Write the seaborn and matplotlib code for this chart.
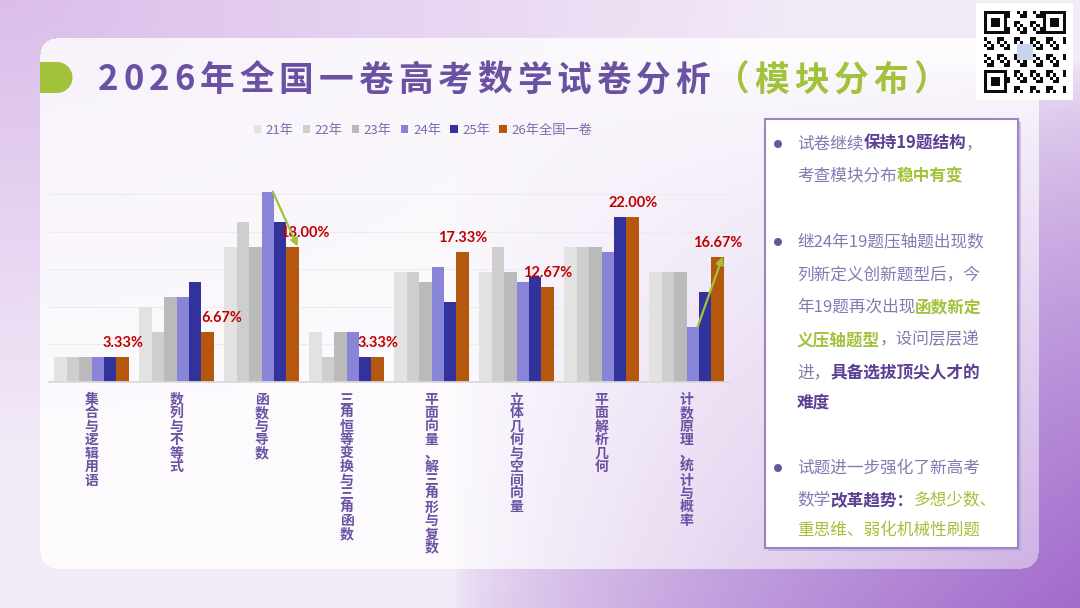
import numpy as np
import pandas as pd
import matplotlib
matplotlib.use("Agg")
import matplotlib.pyplot as plt
import seaborn as sns
from matplotlib.patches import Rectangle, Circle

# ------ DATA ------ #

categories = ["集合与逻辑用语", "数列与不等式", "函数与导数", "三角恒等变换与三角函数",
              "平面向量、解三角形与复数", "立体几何与空间向量", "平面解析几何",
              "计数原理、统计与概率"]
years = ["21年", "22年", "23年", "24年", "25年", "26年全国一卷"]

share_21 = [3.33, 10.00, 18.00, 6.67, 14.67, 14.67, 18.00, 14.67]
share_22 = [3.33, 6.67, 21.33, 3.33, 14.67, 18.00, 18.00, 14.67]
share_23 = [3.33, 11.33, 18.00, 6.67, 13.33, 14.67, 18.00, 14.67]
share_24 = [3.33, 11.33, 25.33, 6.67, 15.33, 13.33, 17.33, 7.33]
share_25 = [3.33, 13.33, 21.33, 3.33, 10.67, 14.00, 22.00, 12.00]
share_26 = [3.33, 6.67, 18.00, 3.33, 17.33, 12.67, 22.00, 16.67]

year_colors = ["#e2e2e2", "#cecece", "#bababa", "#8884d8", "#32329c", "#b5570c"]

title_main = "2026年全国一卷高考数学试卷分析"
title_sub = "（模块分布）"

# ------ STYLE ------ #

PURPLE = "#6a51a2"
DARK = "#5c3f93"
SOFT = "#8878b2"
GREEN = "#a2c23c"
RED = "#c00000"
CJK = ["Noto Sans CJK SC", "DejaVu Sans"]

sns.set_theme(style="white")
plt.rcParams['font.family'] = CJK

W, H = 1080, 608
fig = plt.figure(figsize=(W / 100, H / 100), dpi=100)

# ------ BACKGROUND ------ #

yy, xx = np.mgrid[0:H, 0:W]
u, v = xx / W, yy / H
light = np.array([0.95, 0.92, 0.97])
lav = np.array([0.84, 0.71, 0.91])
purple = np.array([0.63, 0.42, 0.80])
w_l = np.clip(1 - np.sqrt(u ** 2 + v ** 2) / 0.75, 0, 1)[..., None] * 0.85
w_p = (np.clip((u - 0.42) / 0.58, 0, 1) * np.clip((v - 0.1) / 0.9, 0, 1)) ** 0.6
w_p = w_p[..., None]
img = light * (1 - w_l) + lav * w_l
img = img * (1 - w_p) + purple * w_p

# translucent rounded panel
x0, x1, y0, y1, r = 40, 1038, 38, 568, 16
dx = np.maximum(np.maximum(x0 + r - xx, xx - (x1 - r)), 0)
dy = np.maximum(np.maximum(y0 + r - yy, yy - (y1 - r)), 0)
inside = (np.hypot(dx, dy) <= r)[..., None]
alpha = 0.8 - 0.4 * w_p
img = np.where(inside, img * (1 - alpha) + alpha, img)

bg = fig.add_axes([0, 0, 1, 1])
bg.imshow(img, extent=(0, W, H, 0), aspect="auto", interpolation="bilinear")
bg.set_xlim(0, W)
bg.set_ylim(H, 0)
bg.axis("off")

# ------ TITLE ------ #

renderer = fig.canvas.get_renderer()
bg.add_patch(Rectangle((40, 62), 17, 31, color=GREEN, lw=0))
bg.add_patch(Circle((57, 77.5), 15.5, color=GREEN, lw=0))

chars = [(c, PURPLE) for c in title_main] + [(c, GREEN) for c in title_sub]
pieces = [bg.text(0, 80, c, color=col, fontsize=25, fontweight="bold",
                  va="center", ha="left") for c, col in chars]
widths = [p.get_window_extent(renderer).width for p in pieces]
track = (850 - sum(widths)) / (len(pieces) - 1)
cx = 98
for p, w in zip(pieces, widths):
    p.set_x(cx)
    cx += w + track

# ------ QR CODE (decorative) ------ #

bg.add_patch(Rectangle((976, 3), 97, 97, color="white", lw=0))
n = 25
qi, qj = np.mgrid[0:n, 0:n]
qr = ((qi * 7 + qj * 13 + qi * qj) % 5 < 2).astype(float)
for fi, fj in [(0, 0), (0, n - 7), (n - 7, 0)]:
    qr[fi:fi + 7, fj:fj + 7] = 1
    qr[fi + 1:fi + 6, fj + 1:fj + 6] = 0
    qr[fi + 2:fi + 5, fj + 2:fj + 5] = 1
qr_img = np.ones((n, n, 3)) - qr[..., None] * 0.95
qr_img[10:15, 10:15] = [0.78, 0.84, 0.93]
bg.imshow(qr_img, extent=(984, 1066, 93, 11), interpolation="nearest", zorder=3)
bg.set_xlim(0, W)
bg.set_ylim(H, 0)

# ------ CHART ------ #

df = pd.DataFrame({
    "模块": categories * len(years),
    "年份": np.repeat(years, len(categories)),
    "占比": share_21 + share_22 + share_23 + share_24 + share_25 + share_26,
})

px_per = 7.508
ax = fig.add_axes([49 / W, 1 - 381.7 / H, 680 / W, 26 * px_per / H])
ax.patch.set_alpha(0)

sns.barplot(data=df, x="模块", y="占比", hue="年份", order=categories,
            hue_order=years, palette=year_colors, width=0.88, saturation=1,
            linewidth=0, errorbar=None, ax=ax)

ax.set_xlim(-0.5, 7.5)
ax.set_ylim(0, 26)
ax.set_yticks([5, 10, 15, 20, 25])
ax.grid(axis="y", color="#ececec", lw=0.8)
ax.set_axisbelow(True)
ax.tick_params(axis="y", length=0, labelleft=False)
sns.despine(ax=ax, left=True)
ax.spines["bottom"].set_color("#d9d9d9")
ax.set_xlabel("")
ax.set_ylabel("")

ax.set_xticks(range(len(categories)))
ax.set_xticklabels(["\n".join(c) for c in categories], fontsize=10,
                   fontweight="bold", color=PURPLE, linespacing=0.95, va="top")
ax.set_xticks(np.arange(-0.5, len(categories), 1), minor=True)
ax.tick_params(axis="x", which="major", length=0, pad=8)
ax.tick_params(axis="x", which="minor", length=5, color="#d9d9d9", width=0.8)

# value labels on the 26 bars
label_dx = [0, 14, 12, 0, 0, 0, 0, 0]
for i, bar in enumerate(ax.containers[5]):
    ax.annotate(f"{share_26[i]:.2f}%",
                (bar.get_x() + bar.get_width() / 2, bar.get_height()),
                xytext=(label_dx[i], 14), textcoords="offset pixels",
                ha="center", va="center", color=RED, fontsize=10.5,
                fontweight="bold", family=["Lato", "DejaVu Sans"],
                annotation_clip=False)

# trend arrows 24 -> 26
for i in [2, 7]:
    b24, b26 = ax.containers[3][i], ax.containers[5][i]
    ax.annotate("", xy=(b26.get_x() + b26.get_width() * 0.9, b26.get_height()),
                xytext=(b24.get_x() + b24.get_width() * 0.9, b24.get_height()),
                arrowprops=dict(arrowstyle="-|>", color=GREEN, lw=1.6,
                                mutation_scale=11, shrinkA=0, shrinkB=0),
                annotation_clip=False, zorder=5)

sns.move_legend(ax, "center", bbox_to_anchor=((423 - 49) / 680, (381.7 - 130) / (26 * px_per)),
                ncol=6, frameon=False, title=None, fontsize=9.5,
                handlelength=0.55, handleheight=0.55, handletextpad=0.35,
                columnspacing=0.7, labelcolor="#7d6cae")

# ------ TEXT BOX ------ #

bg.add_patch(Rectangle((768, 122), 253, 429, color="#b9a2d3", alpha=0.6, lw=0))
bg.add_patch(Rectangle((765, 119), 253, 429, fc="white", ec="#9c84c2", lw=1.5))

lines = [
    (144, [("试卷继续", SOFT, "normal"), ("保持19题结构", DARK, "bold"), ("，", SOFT, "normal")]),
    (176, [("考查模块分布", SOFT, "normal"), ("稳中有变", GREEN, "bold")]),
    (242, [("继24年19题压轴题出现数", SOFT, "normal")]),
    (276, [("列新定义创新题型后，今", SOFT, "normal")]),
    (307, [("年19题再次出现", SOFT, "normal"), ("函数新定", GREEN, "bold")]),
    (340, [("义压轴题型", GREEN, "bold"), ("，设问层层递", SOFT, "normal")]),
    (373, [("进，", SOFT, "normal"), ("具备选拔顶尖人才的", DARK, "bold")]),
    (403, [("难度", DARK, "bold")]),
    (468, [("试题进一步强化了新高考", SOFT, "normal")]),
    (500, [("数学", SOFT, "normal"), ("改革趋势：", DARK, "bold"), ("多想少数、", GREEN, "normal")]),
    (530, [("重思维、弱化机械性刷题", GREEN, "normal")]),
]
for y, segs in lines:
    x = 797
    for txt, col, wt in segs:
        t = bg.text(x, y, txt, color=col, fontweight=wt, fontsize=12,
                    va="center", ha="left")
        x += t.get_window_extent(renderer).width

for y in [144, 242, 468]:
    bg.add_patch(Circle((778, y), 4, color="#6a54a0", lw=0))

fig.savefig("out.png", dpi=100)
